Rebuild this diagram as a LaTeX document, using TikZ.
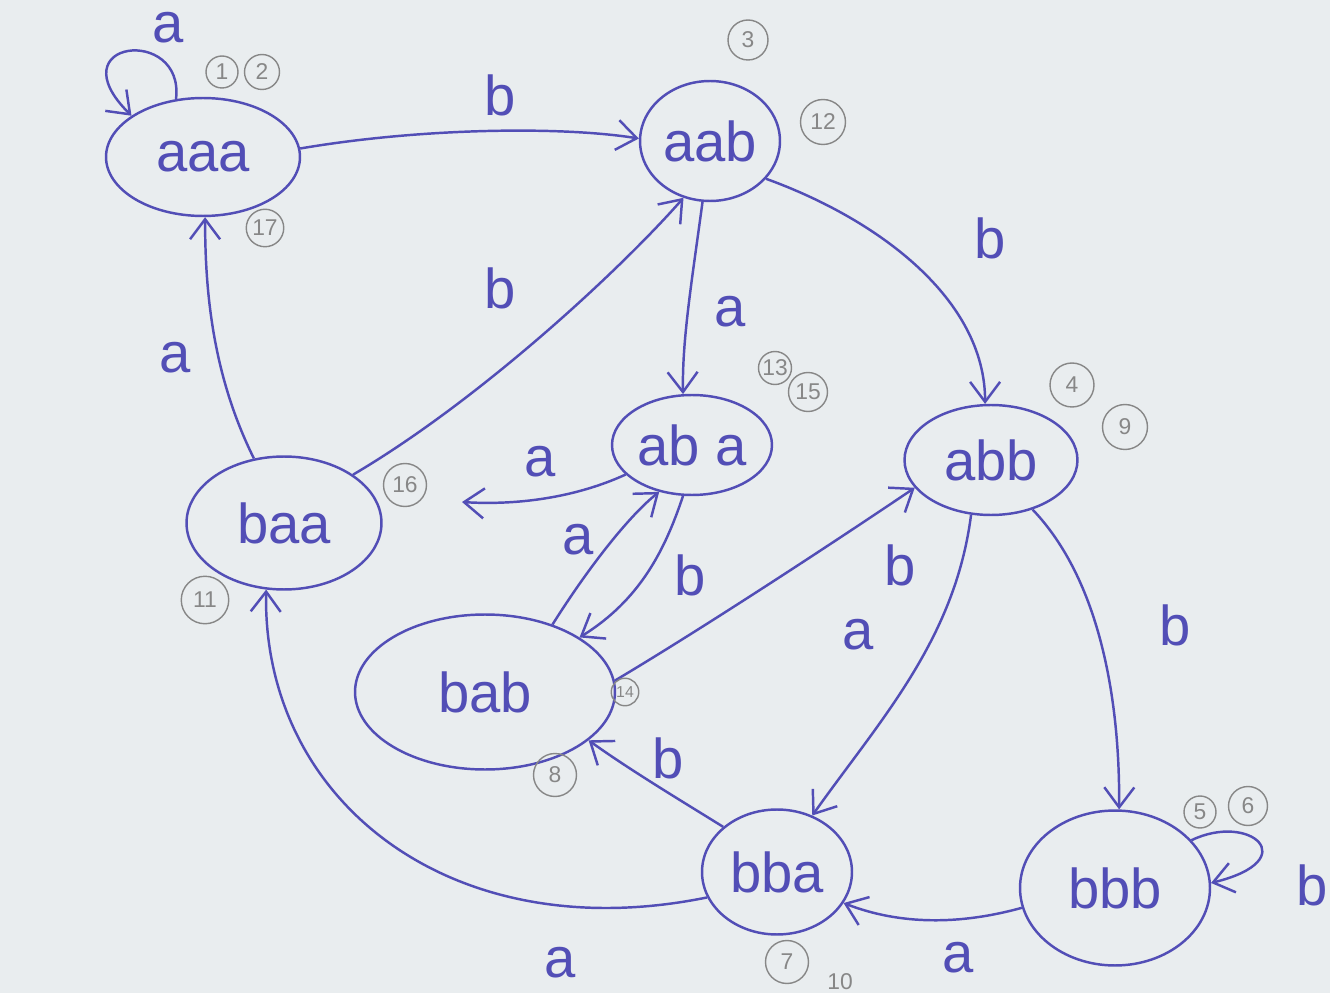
\documentclass[tikz,border=0pt]{standalone}
\usepackage{fontspec}
\setmainfont{Liberation Sans}
\usetikzlibrary{shapes.geometric,arrows.meta}
\definecolor{ink}{RGB}{82,78,182}
\definecolor{paper}{RGB}{233,237,239}
\definecolor{pencil}{RGB}{135,135,135}
\begin{document}
\begin{tikzpicture}[x=0.02cm,y=0.02cm,
  state/.style={ellipse, draw=ink, line width=1.4pt, inner sep=0pt, text=ink,
    font=\fontsize{32}{32}\selectfont},
  edge/.style={draw=ink, line width=1.4pt, -{Straight Barb[length=4mm,width=6mm]}},
  lab/.style={text=ink, font=\fontsize{32}{32}\selectfont, inner sep=0pt},
  num/.style={circle, draw=pencil, line width=0.8pt, text=pencil, inner sep=0pt,
    font=\fontsize{13}{13}\selectfont}]
\fill[paper] (0,-993) rectangle (1330,0);
\useasboundingbox (0,-993) rectangle (1330,0);

% states
\node[state, minimum width=3.88cm, minimum height=2.36cm] (aaa) at (203,-157) {aaa};
\node[state, minimum width=2.8cm, minimum height=2.4cm] (aab) at (710,-141) {aab};
\node[state, minimum width=3.2cm, minimum height=2.0cm] (aba) at (692,-445) {ab a};
\node[state, minimum width=3.46cm, minimum height=2.2cm] (abb) at (991,-460) {abb};
\node[state, minimum width=3.9cm, minimum height=2.66cm] (baa) at (284,-523) {baa};
\node[state, minimum width=5.2cm, minimum height=3.1cm] (bab) at (485,-692) {bab};
\node[state, minimum width=3.0cm, minimum height=2.5cm] (bba) at (777,-872) {bba};
\node[state, minimum width=3.8cm, minimum height=3.1cm] (bbb) at (1115,-888) {bbb};

\coordinate (abaend) at (462,-502);

% transitions
\draw[edge] (aaa.115) .. controls (185,-25) and (55,-40) .. (aaa.150);
\draw[edge] (aaa.5) .. controls (420,-128) and (560,-126) .. (aab.178);
\draw[edge] (aab.263) .. controls (692,-280) and (682,-340) .. (aba.100);
\draw[edge] (aab.326) .. controls (880,-220) and (985,-300) .. (abb.96);
\draw[edge] (aba.204) .. controls (570,-500) and (510,-505) .. (abaend);
\draw[edge] (aba.260) .. controls (665,-550) and (640,-600) .. (bab.30);
\draw[edge] (bab.45) .. controls (590,-565) and (630,-515) .. (aba.235);
\draw[edge] (bab.5) .. controls (700,-630) and (830,-545) .. (abb.200);
\draw[edge] (abb.250) .. controls (955,-640) and (880,-720) .. (bba.58);
\draw[edge] (abb.310) .. controls (1100,-580) and (1120,-700) .. (bbb.87);
\draw[edge] (bba.140) .. controls (680,-800) and (630,-770) .. (bab.335);
\draw[edge] (bba.200) .. controls (450,-950) and (262,-800) .. (baa.255);
\draw[edge] (bbb.192) .. controls (960,-925) and (900,-925) .. (bba.335);
\draw[edge] (bbb.32) .. controls (1250,-812) and (1305,-860) .. (bbb.3);
\draw[edge] (baa.115) .. controls (215,-380) and (205,-300) .. (aaa.272);
\draw[edge] (baa.35) .. controls (480,-400) and (620,-270) .. (aab.245);

% labels
\node[lab] (l1) at (168,-28) {a};
\node[lab] (l2) at (500,-95) {b};
\node[lab] (l3) at (730,-312) {a};
\node[lab] (l4) at (990,-238) {b};
\node[lab] (l5) at (500,-288) {b};
\node[lab] (l6) at (175,-358) {a};
\node[lab] (l7) at (540,-462) {a};
\node[lab] (l8) at (578,-540) {a};
\node[lab] (l9) at (690,-575) {b};
\node[lab] (l10) at (900,-565) {b};
\node[lab] (l11) at (858,-635) {a};
\node[lab] (l12) at (1175,-625) {b};
\node[lab] (l13) at (668,-758) {b};
\node[lab] (l14) at (560,-963) {a};
\node[lab] (l15) at (958,-958) {a};
\node[lab] (l16) at (1312,-885) {b};

% pencil step numbers
\node[num, minimum size=0.64cm] (n1) at (222,-72) {1};
\node[num, minimum size=0.7cm] (n2) at (262,-72) {2};
\node[num, minimum size=0.8cm] (n3) at (748,-40) {3};
\node[num, minimum size=0.9cm] (n12) at (823,-122) {12};
\node[num, minimum size=0.75cm] (n17) at (265,-228) {17};
\node[num, minimum size=0.66cm] (n13) at (775,-368) {13};
\node[num, minimum size=0.78cm] (n15) at (808,-392) {15};
\node[num, minimum size=0.88cm] (n4) at (1072,-385) {4};
\node[num, minimum size=0.9cm] (n9) at (1125,-427) {9};
\node[num, minimum size=0.86cm] (n16) at (405,-485) {16};
\node[num, minimum size=0.95cm] (n11) at (205,-600) {11};
\node[num, minimum size=0.55cm, font=\fontsize{9}{9}\selectfont] (n14) at (625,-692) {14};
\node[num, minimum size=0.86cm] (n8) at (555,-775) {8};
\node[num, minimum size=0.86cm] (n7) at (787,-962) {7};
\node[num, minimum size=0.64cm] (n5) at (1200,-812) {5};
\node[num, minimum size=0.78cm] (n6) at (1248,-806) {6};
\node[text=pencil, font=\fontsize{13}{13}\selectfont, inner sep=0pt] (n10) at (840,-982) {10};
\end{tikzpicture}
\end{document}
